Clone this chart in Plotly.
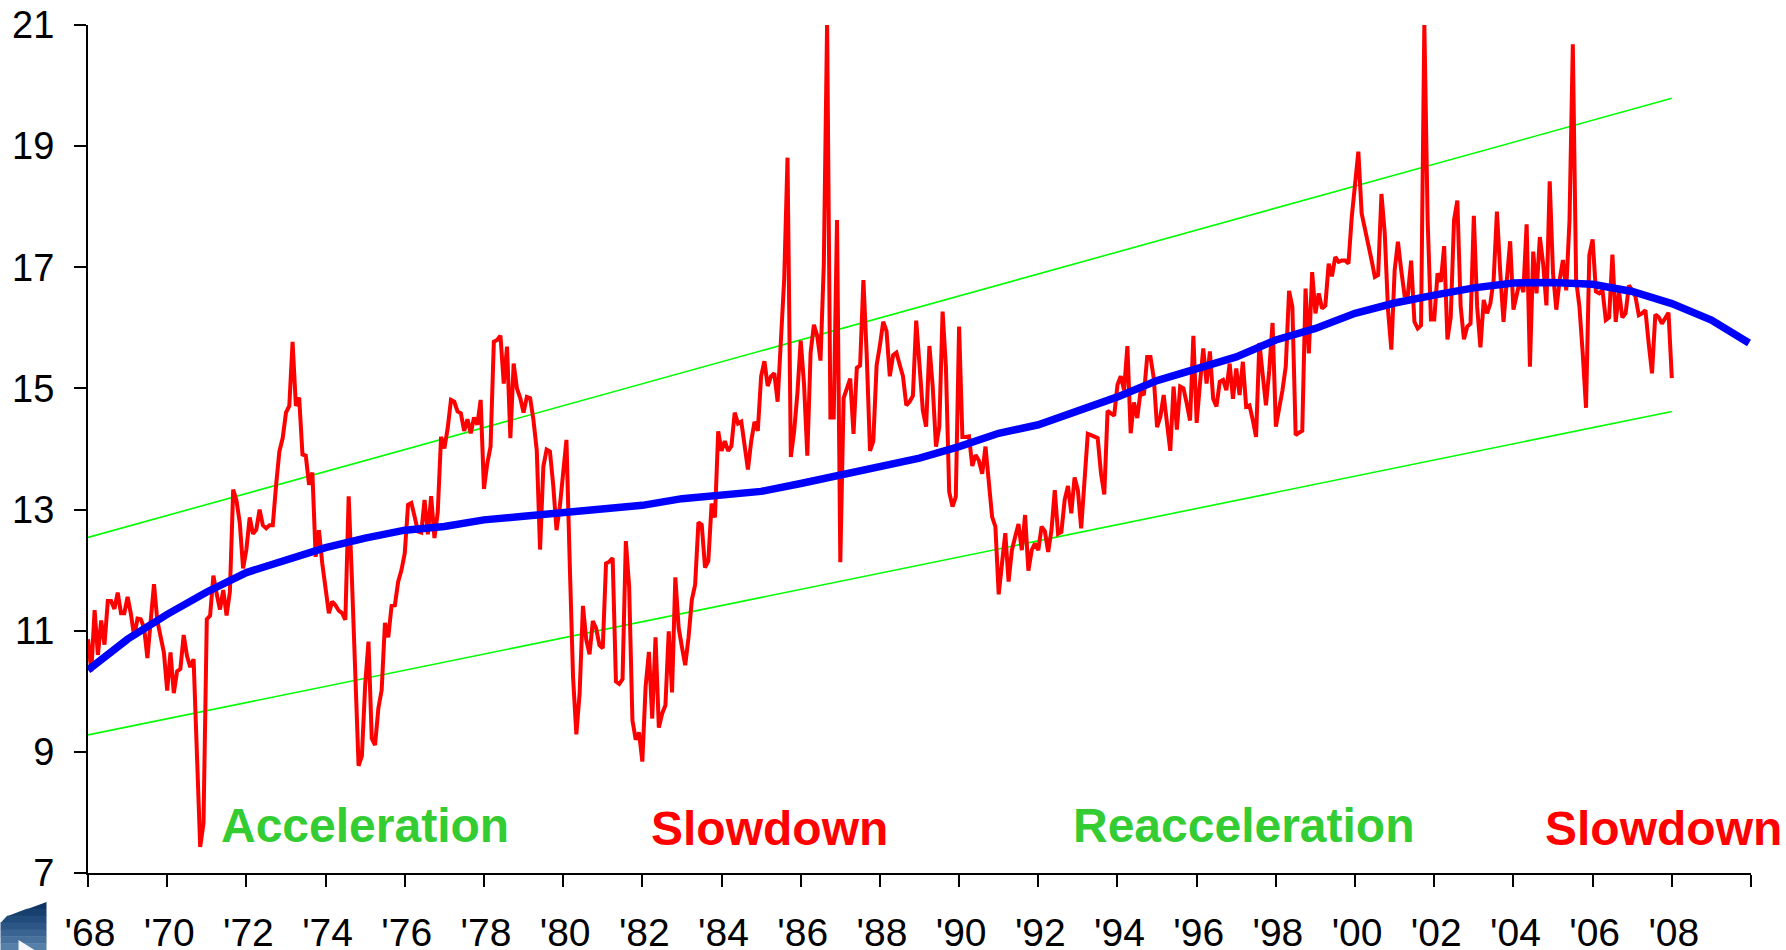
import numpy as np
import plotly.graph_objects as go

# Monthly red series, Jan 1968 onward
red_1968_75 = [10.86,10.33,11.34,10.60,11.17,10.77,11.49,11.49,11.36,11.63,11.29,11.29,
 11.56,11.28,10.90,11.20,11.19,11.05,10.55,11.22,11.77,11.17,10.86,10.64,
 10.01,10.64,9.97,10.33,10.37,10.93,10.58,10.40,10.53,8.82,7.43,7.82,
 11.19,11.25,11.91,11.61,11.35,11.67,11.25,11.64,13.33,13.15,12.78,12.03,
 12.34,12.87,12.60,12.67,13.00,12.74,12.69,12.74,12.74,13.40,13.96,14.18,
 14.60,14.71,15.77,14.71,14.85,13.91,13.89,13.41,13.61,12.22,12.66,12.11,
 11.70,11.29,11.48,11.42,11.33,11.29,11.18,13.22,11.83,10.16,8.77,8.93,10.10]
red_1975_82 = [10.82,9.22,9.11,9.72,10.02,11.13,10.89,11.41,11.42,11.81,12.00,12.28,
 13.08,13.11,12.88,12.64,12.62,13.16,12.59,13.22,12.53,12.96,14.20,14.01,
 14.34,14.81,14.78,14.62,14.59,14.30,14.49,14.26,14.52,14.40,14.81,13.34,
 13.76,14.04,15.77,15.80,15.87,15.08,15.69,14.18,15.41,15.00,14.84,14.60,
 14.86,14.84,14.48,13.98,12.34,13.71,13.99,13.96,13.40,12.66,13.05,13.60,
 14.15,12.11,10.24,9.29,9.97,11.41,10.85,10.61,11.16,11.04,10.76,10.71,
 12.11,12.14,12.20,10.16,10.12,10.20,12.48,11.73,9.52,9.20,9.32,8.84,10.08]
red_1982_89 = [10.65,9.55,10.89,9.40,9.63,9.77,10.99,9.98,11.88,11.05,10.73,10.43,
 10.89,11.51,11.76,12.79,12.75,12.04,12.15,13.10,12.87,14.29,13.97,14.13,
 13.97,14.05,14.60,14.42,14.45,14.05,13.66,14.13,14.45,14.30,15.20,15.45,
 15.04,15.20,15.25,14.78,15.75,16.81,18.81,13.87,14.29,14.92,15.79,15.08,
 13.89,15.59,16.05,15.87,15.46,17.05,21.04,14.52,14.52,17.78,12.13,14.84,
 15.00,15.16,14.25,15.34,15.38,16.79,15.55,13.97,14.13,15.38,15.71,16.10,
 15.95,15.20,15.55,15.59,15.39,15.20,14.72,14.78,14.88,16.12,15.39,14.64,14.37]
red_1989_96 = [15.70,15.03,14.04,14.37,16.27,15.36,13.29,13.05,13.21,16.02,14.20,14.20,
 14.21,13.72,13.90,13.81,13.59,14.04,13.43,12.88,12.72,11.60,12.11,12.61,
 11.81,12.33,12.55,12.76,12.33,12.91,11.99,12.33,12.44,12.33,12.72,12.64,
 12.30,12.66,13.32,12.60,12.63,13.16,13.39,12.94,13.53,13.32,12.69,13.38,
 14.25,14.23,14.20,14.18,13.60,13.25,14.63,14.59,14.55,15.06,15.20,14.97,
 15.70,14.26,14.77,14.51,14.95,14.89,15.52,15.52,15.17,14.36,14.53,14.89,
 14.37,13.97,15.03,14.32,15.03,15.00,14.75,14.47,15.87,14.43,15.08,15.66,15.08]
red_1996_03 = [15.61,14.83,14.70,15.11,15.14,14.97,15.41,14.83,15.33,14.89,15.44,14.70,
 14.72,14.48,14.20,15.75,15.19,14.72,15.30,16.08,14.37,14.64,14.97,15.36,
 16.61,16.35,14.23,14.27,14.30,16.65,15.58,16.92,16.24,16.57,16.32,16.37,
 17.06,16.85,17.17,17.09,17.11,17.11,17.06,17.83,18.36,18.91,17.89,17.64,
 17.42,17.12,16.84,16.87,18.21,17.56,16.29,15.64,16.95,17.42,16.95,16.54,
 16.54,17.11,16.10,15.99,16.04,21.02,17.78,16.14,16.14,16.90,16.76,17.35,
 15.81,16.18,17.78,18.10,16.36,15.81,16.02,16.07,17.85,16.35,15.68,16.46,16.24]
red_2003_08 = [16.40,16.79,17.92,16.92,16.10,16.79,17.43,16.30,16.57,16.79,16.59,17.71,
 15.36,17.26,16.57,17.50,17.06,16.37,18.42,16.90,16.30,16.79,17.12,16.62,
 17.78,20.68,16.79,16.35,15.58,14.68,17.20,17.46,16.60,16.57,16.62,16.13,
 16.17,17.21,16.10,16.60,16.17,16.24,16.70,16.62,16.51,16.21,16.24,16.29,
 15.74,15.25,16.22,16.18,16.07,16.15,16.25,15.17]

blue_years = [1968,1968.5,1969,1970,1971,1972,1973,1974,1975,1976,1977,1978,1979,1980,1981,1982,
              1983,1984,1985,1986,1987,1988,1989,1990,1991,1992,1993,1994,1995,1996,1997,1998,
              1999,2000,2001,2002,2003,2004,2005,2006,2007,2008,2009,2009.95]
blue_values = [10.35,10.62,10.86,11.27,11.64,11.96,12.17,12.37,12.53,12.66,12.72,12.83,12.89,12.95,13.01,13.07,
               13.18,13.24,13.30,13.43,13.56,13.71,13.85,14.04,14.26,14.40,14.62,14.86,15.13,15.33,15.52,15.80,
               15.99,16.24,16.41,16.54,16.66,16.74,16.75,16.72,16.60,16.40,16.13,15.75]

green_years = [1968, 2008]
green_upper = [12.54, 19.79]
green_lower = [9.28, 14.62]

y_ticks = [7, 9, 11, 13, 15, 17, 19, 21]
x_ticks = list(range(1968, 2011, 2))
x_labels = ["'68","'70","'72","'74","'76","'78","'80","'82","'84","'86","'88","'90",
            "'92","'94","'96","'98","'00","'02","'04","'06","'08",""]

phases = ["Acceleration", "Slowdown", "Reacceleration", "Slowdown"]
phase_years = [1975.0, 1985.2, 1997.2, 2007.8]
phase_values = [7.79, 7.73, 7.79, 7.73]
phase_colors = ["#33CC33", "#FF0000", "#33CC33", "#FF0000"]
phase_sizes = [48, 48, 48, 48]

red_values = red_1968_75 + red_1975_82 + red_1982_89 + red_1989_96 + red_1996_03 + red_2003_08
red_years = 1968 + np.arange(len(red_values)) / 12

W, H = 1786, 950
L, R, T, B = 87.5, 35, 25, 77
font = "Liberation Sans, Arial, sans-serif"

fig = go.Figure()
for vals in (green_upper, green_lower):
    fig.add_trace(go.Scatter(x=green_years, y=vals, mode="lines", cliponaxis=False,
                             line=dict(color="#00FF00", width=1.6), hoverinfo="skip"))
fig.add_trace(go.Scatter(x=red_years, y=red_values, mode="lines", cliponaxis=False,
                         line=dict(color="#FF0000", width=4, shape="linear")))
fig.add_trace(go.Scatter(x=blue_years, y=blue_values, mode="lines", cliponaxis=False,
                         line=dict(color="#0000FF", width=7.5)))

for t, xv, yv, c, s in zip(phases, phase_years, phase_values, phase_colors, phase_sizes):
    fig.add_annotation(x=xv, y=yv, text=f"<b>{t}</b>", showarrow=False,
                       font=dict(family=font, size=s, color=c), xanchor="center", yanchor="middle")

# corner logo, drawn in paper space from pixel positions
def px(x): return (x - L) / (W - L - R)
def py(y): return 1 - (y - T) / (H - T - B)
shades = ["#0f3565", "#17406f", "#214b7a", "#2c5686", "#396390", "#47709b", "#5680a8"]
shapes = []
top_l, top_r = 918, 902
y0 = top_r
step = (950 - top_r) / len(shades)
for k, col in enumerate(shades):
    y1, y2 = y0 + k * step, y0 + (k + 1) * step
    def xat(y):  # left edge of logo at this height
        return max(0, 46 * (top_l - y) / (top_l - top_r))
    xa, xb = xat(y1), xat(y2)
    pts = [(xa, y1), (46, y1), (46, y2 + 0.5), (xb, y2 + 0.5)]
    path = "M " + " L ".join(f"{px(a):.5f},{py(b):.5f}" for a, b in pts) + " Z"
    shapes.append(dict(type="path", xref="paper", yref="paper", path=path, fillcolor=col,
                       line=dict(width=0), layer="above"))
pts = [(18, 940), (34, 950), (18, 950)]
shapes.append(dict(type="path", xref="paper", yref="paper",
                   path="M " + " L ".join(f"{px(a):.5f},{py(b):.5f}" for a, b in pts) + " Z",
                   fillcolor="#f4f6fa", line=dict(width=0), layer="above"))

fig.update_layout(
    width=W, height=H, showlegend=False, paper_bgcolor="white", plot_bgcolor="white",
    margin=dict(l=L, r=R, t=T, b=B, pad=0), shapes=shapes,
    xaxis=dict(range=[1968, 2010], tickmode="array", tickvals=x_ticks, ticktext=x_labels, automargin=False,
               showgrid=False, zeroline=False, showline=True, linecolor="black", linewidth=2,
               ticks="outside", ticklen=12, tickwidth=2, tickcolor="black", ticklabelstandoff=12,
               ticklabelshift=2,
               tickfont=dict(family=font, size=39, color="black")),
    yaxis=dict(range=[7, 21], tickmode="array", tickvals=y_ticks, automargin=False,
               showgrid=False, zeroline=False, showline=True, linecolor="black", linewidth=2,
               ticks="outside", ticklen=12, tickwidth=2, tickcolor="black", ticklabelstandoff=12,
               tickfont=dict(family=font, size=38, color="black")),
)
fig.write_html("out.html", config=dict(displayModeBar=False), post_script="document.body.style.margin='0';")
